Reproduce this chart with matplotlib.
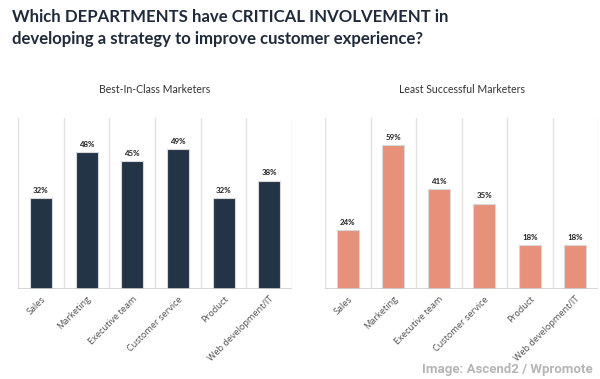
import numpy as np
import matplotlib
matplotlib.use('Agg')
import matplotlib.pyplot as plt


# ----------------------------------------------------------------

categories = ['Sales', 'Marketing', 'Executive team', 'Customer service',
              'Product', 'Web development/IT']
best_in_class = [32, 48, 45, 49, 32, 38]
least_successful = [24, 59, 41, 35, 18, 18]

title = ('Which DEPARTMENTS have CRITICAL INVOLVEMENT in\n'
         'developing a strategy to improve customer experience?')
panel_titles = ['Best-In-Class Marketers', 'Least Successful Marketers']
credit = 'Image: Ascend2 / Wpromote'

navy = '#243447'
salmon = '#e8917a'
title_color = '#1f2b3a'
grid_color = '#e2e2e2'

plt.rcParams['font.family'] = ['Lato', 'DejaVu Sans']


# ----------------------------------------------------------------

def draw_panel(ax, values, color, y_max, sub):
    x = np.arange(len(categories))
    ax.bar(x, values, width=0.48, color=color, edgecolor='#d8d8d8',
           linewidth=0.8, zorder=3)
    for xi, v in zip(x, values):
        ax.text(xi, v + y_max * 0.025, f'{v}%', ha='center', va='bottom',
                fontsize=5.7, fontweight='bold', color='#222222')

    ax.set_xlim(-0.5, len(categories) - 0.5)
    ax.set_ylim(0, y_max)
    # vertical separators between categories
    for b in np.arange(-0.5, len(categories), 1.0):
        ax.axvline(b, color=grid_color, linewidth=1, zorder=1)
    ax.axhline(0, color='#cfcfcf', linewidth=1.2, zorder=4)

    for s in ax.spines.values():
        s.set_visible(False)
    ax.set_yticks([])
    ax.set_xticks(x)
    ax.set_xticklabels(categories, rotation=45, ha='right',
                       rotation_mode='anchor', fontsize=6.6, color='#505050',
                       family=['Open Sans', 'DejaVu Sans'])
    ax.tick_params(axis='x', length=0, pad=4)
    ax.set_title(sub, fontsize=7.6, color='#333333', pad=18)


fig = plt.figure(figsize=(6, 3.79), dpi=100)
fig.patch.set_facecolor('white')

ax1 = fig.add_axes([0.030, 0.2375, 0.457, 0.451])
ax2 = fig.add_axes([0.5417, 0.2375, 0.455, 0.451])

draw_panel(ax1, best_in_class, navy, 60, panel_titles[0])
draw_panel(ax2, least_successful, salmon, 70, panel_titles[1])

fig.text(0.02, 0.975, title, ha='left', va='top', fontsize=12.1,
         fontweight='bold', color=title_color, linespacing=1.4)

fig.text(0.988, 0.008, credit, ha='right', va='bottom', fontsize=9.5,
         fontweight='bold', color='#b5b5b5',
         family=['Roboto', 'DejaVu Sans'])

fig.savefig('out.png', dpi=100)
